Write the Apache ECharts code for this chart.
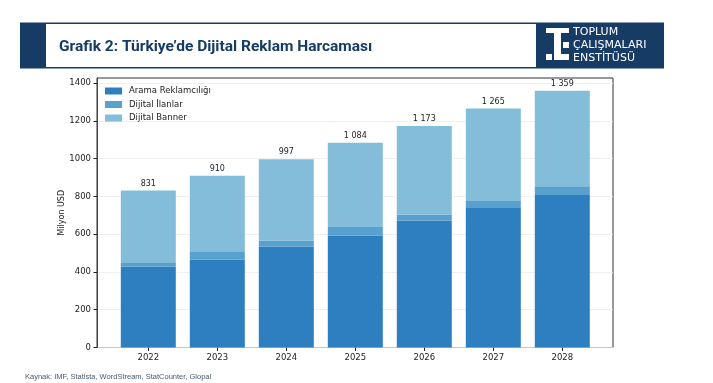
<!DOCTYPE html>
<html>
<head>
<meta charset="utf-8">
<script src="https://cdn.jsdelivr.net/npm/echarts@6/dist/echarts.min.js"></script>
<style>html,body{margin:0;padding:0;background:#fff}#c{width:713px;height:383px}</style>
</head>
<body>
<div id="c"></div>
<script>
const years = ['2022','2023','2024','2025','2026','2027','2028'];
const arama = [427, 465, 535, 592, 673, 742, 808];
const ilanlar = [25, 45, 31, 46, 30, 34, 46];
const banner = [379, 400, 431, 446, 470, 489, 505];
const totals = [831, 910, 997, 1084, 1173, 1265, 1359];
const yTicks = [0, 200, 400, 600, 800, 1000, 1200, 1400];
const seriesNames = ['Arama Reklamcılığı', 'Dijital İlanlar', 'Dijital Banner'];

const NAVY = '#163b64';
const fmt = v => String(v).replace(/\B(?=(\d{3})+(?!\d))/g, ' ');
const axisFont = 'DejaVu Sans';
const Y_MAX = 1427;

const chart = echarts.init(document.getElementById('c'), null, {renderer: 'canvas'});
chart.setOption({
  animation: false,
  grid: [
    {left: 97, right: 100, top: 78, bottom: 35.5, show: true, borderColor: '#333', borderWidth: 1, backgroundColor: 'transparent'},
    {left: 113.8, right: 116.2, top: 78, bottom: 35.5}
  ],
  legend: {
    orient: 'vertical', left: 105, top: 86.5, padding: 0, itemWidth: 17, itemHeight: 7, itemGap: 4.5,
    icon: 'rect', selectedMode: false,
    textStyle: {fontFamily: axisFont, fontSize: 8.5, color: '#222', lineHeight: 9, padding: [0, 0, 0, 2]},
    data: seriesNames
  },
  xAxis: [
    {type: 'value', gridIndex: 0, min: 0, max: 1, show: false},
    {type: 'category', gridIndex: 1, data: years, boundaryGap: true,
      axisLine: {show: false},
      axisTick: {show: true, alignWithLabel: true, length: 3.5, lineStyle: {color: '#222'}},
      axisLabel: {fontFamily: axisFont, fontSize: 8.5, color: '#222', margin: 6}}
  ],
  yAxis: [
    {type: 'value', gridIndex: 0, min: 0, max: Y_MAX,
      name: 'Milyon USD', nameLocation: 'middle', nameGap: 31, nameRotate: 90, nameMoveOverlap: false,
      nameTextStyle: {fontFamily: axisFont, fontSize: 8, color: '#222'},
      axisLine: {show: true, lineStyle: {color: '#444'}},
      axisTick: {show: true, length: 3.5, lineStyle: {color: '#222'}, customValues: yTicks},
      axisLabel: {customValues: yTicks, fontFamily: axisFont, fontSize: 8.5, color: '#222', margin: 6, formatter: v => String(v)},
      splitLine: {show: true, lineStyle: {color: '#ececec', width: 0.8}}},
    {type: 'value', gridIndex: 1, min: 0, max: Y_MAX, show: false, splitLine: {show: false}}
  ],
  series: [
    {name: seriesNames[0], type: 'bar', xAxisIndex: 1, yAxisIndex: 1, stack: 's', barWidth: 55, data: arama, itemStyle: {color: '#2e7fbf'}},
    {name: seriesNames[1], type: 'bar', xAxisIndex: 1, yAxisIndex: 1, stack: 's', barWidth: 55, data: ilanlar, itemStyle: {color: '#58a0cd'}},
    {name: seriesNames[2], type: 'bar', xAxisIndex: 1, yAxisIndex: 1, stack: 's', barWidth: 55, data: banner, itemStyle: {color: '#84bdda'},
      label: {show: true, position: 'top', distance: 3, fontFamily: axisFont, fontSize: 8, color: '#222',
        formatter: p => fmt(totals[p.dataIndex])}}
  ],
  graphic: [
    {type: 'rect', shape: {x: 20, y: 22.5, width: 644, height: 46}, style: {fill: NAVY}, silent: true},
    {type: 'rect', shape: {x: 46, y: 24, width: 490, height: 43}, style: {fill: '#fff'}, silent: true},
    {type: 'text', x: 59, y: 47, style: {text: 'Grafik 2: Türkiye’de Dijital Reklam Harcaması', fill: NAVY,
      font: 'bold 15.5px Roboto, "Liberation Sans", sans-serif', textVerticalAlign: 'middle'}},
    {type: 'rect', shape: {x: 546, y: 28, width: 23, height: 5}, style: {fill: '#fff'}},
    {type: 'rect', shape: {x: 554, y: 28, width: 7, height: 32}, style: {fill: '#fff'}},
    {type: 'rect', shape: {x: 563, y: 42, width: 6, height: 6}, style: {fill: '#fff'}},
    {type: 'rect', shape: {x: 546, y: 54, width: 6, height: 6}, style: {fill: '#fff'}},
    {type: 'rect', shape: {x: 554, y: 54, width: 15, height: 6}, style: {fill: '#fff'}},
    {type: 'text', x: 573, y: 32, style: {text: 'TOPLUM', fill: '#fff', font: '11px "DejaVu Sans", sans-serif', textVerticalAlign: 'middle'}},
    {type: 'text', x: 573, y: 45, style: {text: 'ÇALIŞMALARI', fill: '#fff', font: '11px "DejaVu Sans", sans-serif', textVerticalAlign: 'middle'}},
    {type: 'text', x: 573, y: 58, style: {text: 'ENSTİTÜSÜ', fill: '#fff', font: '11px "DejaVu Sans", sans-serif', textVerticalAlign: 'middle'}},
    {type: 'text', x: 25, y: 377, style: {text: 'Kaynak: IMF, Statista, WordStream, StatCounter, Glopal', fill: '#4b5a70',
      font: '7.5px "Liberation Sans", sans-serif', textVerticalAlign: 'middle'}}
  ]
});
</script>
</body>
</html>
